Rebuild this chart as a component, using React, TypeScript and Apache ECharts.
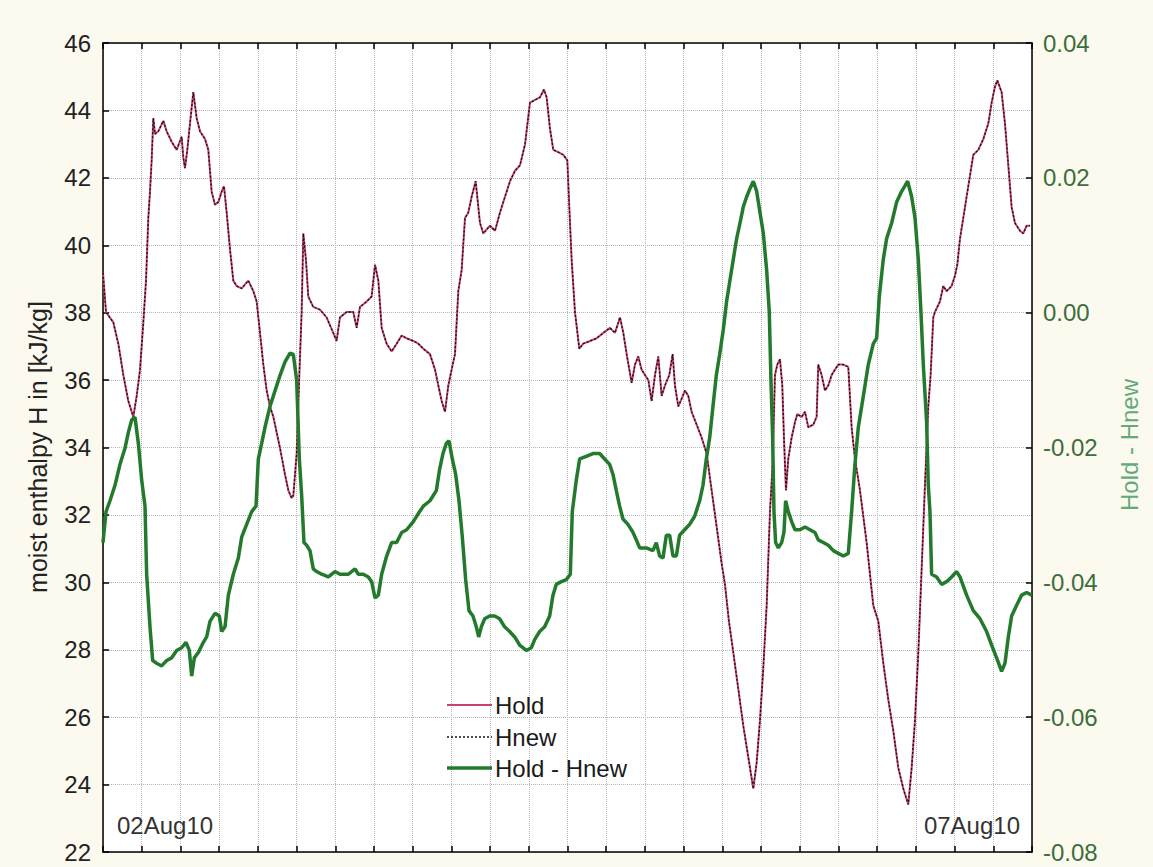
import React, { useEffect, useRef } from "react";
import * as echarts from "echarts";

// x in time-step units (one tick per step), left axis in kJ/kg
const hold: number[][] = [
  [0, 39.18], [0.078, 38.02], [0.267, 37.71], [0.396, 37.08], [0.525, 36.15], [0.654, 35.38], [0.784, 34.91],
  [0.87, 35.53], [0.956, 36.31], [1.042, 37.71], [1.111, 38.95], [1.171, 40.81], [1.214, 41.59], [1.257, 42.52],
  [1.3, 43.77], [1.343, 43.3], [1.429, 43.38], [1.558, 43.69], [1.645, 43.38], [1.774, 43.07], [1.903, 42.83],
  [2.032, 43.22], [2.075, 42.6], [2.118, 42.29], [2.178, 42.83], [2.247, 43.61], [2.333, 44.54], [2.42, 43.77],
  [2.506, 43.38], [2.635, 43.15], [2.721, 42.83], [2.807, 41.59], [2.893, 41.2], [2.979, 41.28], [3.066, 41.59],
  [3.126, 41.75], [3.195, 40.97], [3.281, 39.88], [3.367, 38.95], [3.453, 38.79], [3.582, 38.72], [3.754, 38.95],
  [3.884, 38.64], [3.97, 38.33], [4.056, 37.4], [4.142, 36.46], [4.228, 35.69], [4.314, 35.22], [4.401, 34.91],
  [4.573, 33.98], [4.702, 33.2], [4.788, 32.73], [4.874, 32.5], [4.917, 32.58], [5.003, 33.82], [5.072, 36.15],
  [5.132, 38.02], [5.175, 40.35], [5.243, 39.57], [5.303, 38.48], [5.432, 38.17], [5.604, 38.09], [5.776, 37.86],
  [5.949, 37.4], [6.035, 37.16], [6.122, 37.86], [6.294, 38.02], [6.466, 38.02], [6.553, 37.55], [6.639, 38.17],
  [6.811, 38.33], [6.94, 38.48], [7.027, 39.42], [7.113, 38.95], [7.199, 37.55], [7.328, 37.08], [7.457, 36.85],
  [7.586, 37.08], [7.716, 37.32], [7.845, 37.24], [8.017, 37.16], [8.146, 37.08], [8.275, 36.93], [8.447, 36.77],
  [8.577, 36.31], [8.663, 35.84], [8.749, 35.38], [8.835, 35.06], [8.921, 35.84], [9.007, 36.31], [9.093, 36.77],
  [9.179, 38.64], [9.265, 39.26], [9.352, 40.81], [9.438, 40.97], [9.524, 41.44], [9.627, 41.9], [9.739, 40.66],
  [9.825, 40.35], [9.997, 40.58], [10.127, 40.43], [10.256, 40.97], [10.385, 41.44], [10.514, 41.9], [10.643, 42.21],
  [10.772, 42.37], [10.902, 42.99], [11.031, 44.23], [11.16, 44.31], [11.289, 44.39], [11.392, 44.62], [11.461, 44.39],
  [11.547, 43.46], [11.633, 42.83], [11.763, 42.76], [11.892, 42.68], [11.995, 42.52], [12.047, 41.13], [12.107, 39.57],
  [12.193, 38.02], [12.305, 36.93], [12.408, 37.08], [12.581, 37.16], [12.753, 37.24], [12.925, 37.4], [13.097, 37.55],
  [13.226, 37.4], [13.356, 37.86], [13.442, 37.4], [13.528, 36.77], [13.657, 35.92], [13.743, 36.46], [13.829, 36.7],
  [13.915, 36.31], [14.001, 36.15], [14.088, 36.0], [14.174, 35.38], [14.26, 36.15], [14.346, 36.7], [14.432, 35.53],
  [14.518, 35.84], [14.63, 36.15], [14.716, 36.77], [14.776, 35.84], [14.862, 35.22], [14.949, 35.45], [15.035, 35.69],
  [15.121, 35.53], [15.207, 35.06], [15.336, 34.68], [15.466, 34.29], [15.595, 33.82], [15.724, 32.73], [15.853, 31.65],
  [15.982, 30.56], [16.068, 29.94], [16.17, 28.85], [16.283, 27.92], [16.413, 26.83], [16.542, 25.74], [16.671, 24.81],
  [16.8, 23.88], [16.886, 24.65], [16.972, 25.9], [17.058, 27.45], [17.145, 29.31], [17.231, 32.11], [17.3, 33.51],
  [17.36, 36.15], [17.42, 36.46], [17.489, 36.62], [17.549, 35.84], [17.592, 34.29], [17.644, 32.73], [17.704, 33.67],
  [17.79, 34.29], [17.876, 34.75], [17.937, 34.99], [18.049, 34.91], [18.135, 35.06], [18.221, 34.6], [18.35, 34.68],
  [18.436, 34.91], [18.479, 36.46], [18.565, 36.15], [18.651, 35.69], [18.737, 35.84], [18.824, 36.15], [18.91, 36.31],
  [18.996, 36.46], [19.125, 36.46], [19.254, 36.39], [19.34, 34.6], [19.426, 33.67], [19.556, 32.73], [19.728, 31.18],
  [19.9, 29.31], [20.029, 28.85], [20.158, 27.61], [20.287, 26.52], [20.417, 25.59], [20.546, 24.5], [20.675, 23.88],
  [20.804, 23.41], [20.891, 24.5], [20.977, 25.9], [21.063, 27.92], [21.149, 30.4], [21.235, 32.89], [21.321, 35.22],
  [21.381, 36.15], [21.45, 37.86], [21.493, 38.02], [21.622, 38.33], [21.708, 38.79], [21.795, 38.64], [21.924, 38.79],
  [22.01, 39.1], [22.07, 39.42], [22.139, 40.19], [22.225, 40.81], [22.311, 41.44], [22.397, 42.06], [22.483, 42.68],
  [22.613, 42.83], [22.742, 43.15], [22.871, 43.61], [22.957, 44.23], [23.043, 44.7], [23.104, 44.89], [23.215, 44.54],
  [23.302, 43.61], [23.388, 42.37], [23.474, 41.13], [23.56, 40.66], [23.689, 40.43], [23.775, 40.35], [23.861, 40.58],
  [23.95, 40.58],
];

// Hnew is indistinguishable from Hold at this scale (difference < 0.06 kJ/kg)
const hnew: number[][] = hold;

// right axis: Hold - Hnew
const diff: number[][] = [
  [0, -0.0341], [0.078, -0.0295], [0.181, -0.0279], [0.31, -0.0256], [0.439, -0.0225], [0.568, -0.0201], [0.654, -0.0178],
  [0.741, -0.0159], [0.827, -0.0155], [0.913, -0.0194], [0.999, -0.0248], [1.085, -0.0287], [1.128, -0.0388], [1.214, -0.0466],
  [1.283, -0.0516], [1.386, -0.052], [1.516, -0.0524], [1.645, -0.0516], [1.774, -0.0512], [1.903, -0.0501], [2.032, -0.0497],
  [2.144, -0.0489], [2.23, -0.0501], [2.291, -0.0539], [2.36, -0.0512], [2.463, -0.0504], [2.592, -0.0489], [2.678, -0.0481],
  [2.764, -0.0458], [2.893, -0.0446], [3.005, -0.045], [3.066, -0.0473], [3.152, -0.0466], [3.238, -0.0419], [3.367, -0.0388],
  [3.496, -0.0364], [3.582, -0.0333], [3.711, -0.0314], [3.841, -0.0295], [3.953, -0.0287], [4.013, -0.0217], [4.099, -0.0194],
  [4.185, -0.017], [4.314, -0.0139], [4.443, -0.0116], [4.573, -0.0093], [4.702, -0.0073], [4.831, -0.006], [4.917, -0.0062],
  [5.003, -0.01], [5.072, -0.0217], [5.132, -0.0271], [5.192, -0.0341], [5.261, -0.0345], [5.347, -0.0353], [5.432, -0.038],
  [5.519, -0.0384], [5.649, -0.0388], [5.821, -0.0392], [5.993, -0.0384], [6.122, -0.0388], [6.338, -0.0388], [6.51, -0.038],
  [6.596, -0.0388], [6.725, -0.0388], [6.854, -0.0392], [6.941, -0.0399], [7.027, -0.0423], [7.113, -0.0419], [7.199, -0.0388],
  [7.328, -0.0361], [7.457, -0.0341], [7.586, -0.0341], [7.716, -0.0326], [7.845, -0.0322], [8.017, -0.031], [8.146, -0.0298],
  [8.275, -0.0287], [8.447, -0.0279], [8.611, -0.0264], [8.697, -0.0232], [8.783, -0.0209], [8.869, -0.0194], [8.938, -0.019],
  [9.024, -0.0217], [9.111, -0.024], [9.197, -0.0279], [9.283, -0.0333], [9.369, -0.0396], [9.455, -0.0442], [9.558, -0.045],
  [9.644, -0.0466], [9.705, -0.0481], [9.773, -0.0466], [9.86, -0.0454], [9.989, -0.045], [10.118, -0.045], [10.247, -0.0454],
  [10.376, -0.0466], [10.506, -0.0473], [10.635, -0.0481], [10.764, -0.0493], [10.936, -0.0501], [11.065, -0.0497], [11.151, -0.0485],
  [11.281, -0.0473], [11.41, -0.0466], [11.539, -0.045], [11.625, -0.0419], [11.711, -0.0403], [11.84, -0.0399], [11.969, -0.0396],
  [12.073, -0.0388], [12.124, -0.0295], [12.228, -0.0248], [12.314, -0.0217], [12.486, -0.0213], [12.658, -0.0209], [12.83, -0.0209],
  [12.96, -0.0217], [13.089, -0.0225], [13.175, -0.024], [13.261, -0.0264], [13.347, -0.0287], [13.433, -0.0306], [13.562, -0.0314],
  [13.692, -0.0326], [13.778, -0.0337], [13.864, -0.0349], [14.036, -0.0349], [14.208, -0.0353], [14.294, -0.0341], [14.38, -0.0361],
  [14.467, -0.0364], [14.553, -0.033], [14.639, -0.033], [14.725, -0.0361], [14.811, -0.0361], [14.897, -0.033], [15.026, -0.0322],
  [15.155, -0.0314], [15.285, -0.0302], [15.414, -0.0279], [15.5, -0.0256], [15.586, -0.0217], [15.672, -0.0186], [15.758, -0.0139],
  [15.844, -0.0093], [15.931, -0.0062], [16.025, -0.0025], [16.111, 0.0017], [16.197, 0.0048], [16.283, 0.0079], [16.37, 0.011],
  [16.456, 0.0133], [16.542, 0.0157], [16.628, 0.0172], [16.714, 0.0184], [16.8, 0.0195], [16.886, 0.018], [16.972, 0.0149],
  [17.058, 0.0118], [17.145, 0.0063], [17.213, 0.0001], [17.256, -0.01], [17.3, -0.0186], [17.334, -0.0295], [17.377, -0.0341],
  [17.446, -0.0349], [17.532, -0.0341], [17.592, -0.0326], [17.635, -0.0279], [17.704, -0.0295], [17.79, -0.031], [17.876, -0.0322],
  [18.006, -0.0322], [18.135, -0.0318], [18.264, -0.0322], [18.393, -0.0326], [18.479, -0.0337], [18.608, -0.0341], [18.737, -0.0345],
  [18.867, -0.0353], [18.996, -0.0357], [19.125, -0.0361], [19.254, -0.0357], [19.34, -0.0295], [19.426, -0.0225], [19.513, -0.017],
  [19.642, -0.0124], [19.771, -0.0077], [19.9, -0.0046], [19.986, -0.0038], [20.055, 0.0024], [20.158, 0.0079], [20.245, 0.011],
  [20.374, 0.0133], [20.503, 0.0164], [20.632, 0.018], [20.718, 0.0188], [20.787, 0.0195], [20.891, 0.0172], [20.977, 0.0141],
  [21.063, 0.0079], [21.131, 0.0001], [21.192, -0.0077], [21.278, -0.0163], [21.321, -0.0256], [21.364, -0.0295], [21.407, -0.0388],
  [21.536, -0.0392], [21.665, -0.0403], [21.795, -0.0399], [21.924, -0.0392], [22.053, -0.0384], [22.139, -0.0392], [22.311, -0.0419],
  [22.483, -0.0442], [22.656, -0.0454], [22.828, -0.0473], [22.957, -0.0493], [23.086, -0.0512], [23.215, -0.0532], [23.302, -0.052],
  [23.388, -0.0481], [23.474, -0.045], [23.603, -0.0434], [23.732, -0.0419], [23.861, -0.0415], [23.99, -0.0419],
];

const leftTicks = { min: 22, max: 46, step: 2 };
const rightTicks = { min: -0.08, max: 0.04, step: 0.02 };
const xRange = { min: 0, max: 24, step: 1 };
const dateLabels = ["02Aug10", "07Aug10"];
const seriesNames = ["Hold", "Hnew", "Hold - Hnew"];
const leftName = "moist enthalpy H in [kJ/kg]";
const rightName = "Hold - Hnew";

const FONT = "Arial, 'Liberation Sans', sans-serif";

const COLORS = { hold: "#c8426e", hnew: "#111111", diff: "#237a2c" };

export default function App() {
  const ref = useRef<HTMLDivElement>(null);
  useEffect(() => {
    if (!ref.current) return;
    const chart = echarts.init(ref.current, undefined, { renderer: "svg" });
    const gridLine = { show: true, lineStyle: { color: "#b5b5b5", type: "dotted" as const, width: 1 } };
    const blackLine = { show: true, lineStyle: { color: "#000", width: 1.5 } };
    const tick = { show: true, inside: true, length: 6, lineStyle: { color: "#000", width: 1.5 } };

    // legend drawn as graphic rows (line sample + label)
    const legendX = 447;
    const legendRowsY = [705, 737, 768];
    const legendStyles = [
      { stroke: COLORS.hold, lineWidth: 2, lineDash: undefined as number[] | undefined },
      { stroke: COLORS.hnew, lineWidth: 1.3, lineDash: [2, 2] },
      { stroke: COLORS.diff, lineWidth: 3.5, lineDash: undefined as number[] | undefined },
    ];
    const legendGraphics: any[] = [];
    seriesNames.forEach((name, i) => {
      const y = legendRowsY[i];
      const s = legendStyles[i];
      legendGraphics.push({
        type: "line", z: 10,
        shape: { x1: legendX, y1: y, x2: legendX + 45, y2: y },
        style: { stroke: s.stroke, lineWidth: s.lineWidth, lineDash: s.lineDash },
      });
      legendGraphics.push({
        type: "text", z: 10, x: legendX + 48, y,
        style: { text: name, fontSize: 24, fill: "#1a1a1a", fontFamily: FONT, verticalAlign: "middle" },
      });
    });

    chart.setOption({
      animation: false,
      backgroundColor: "#fcf9ef",
      textStyle: { fontFamily: FONT },
      grid: {
        left: 103, top: 43, width: 929, height: 809,
        show: true, backgroundColor: "#ffffff", borderWidth: 0,
      },
      xAxis: [
        {
          type: "value", position: "bottom",
          min: xRange.min, max: xRange.max, interval: xRange.step,
          axisLine: { ...blackLine, onZero: false },
          axisTick: tick,
          axisLabel: { show: false },
          splitLine: gridLine,
        },
        {
          type: "value", position: "top",
          min: xRange.min, max: xRange.max, interval: xRange.step,
          axisLine: { ...blackLine, onZero: false },
          axisTick: tick,
          axisLabel: { show: false },
          splitLine: { show: false },
        },
      ],
      yAxis: [
        {
          type: "value", position: "left",
          min: leftTicks.min, max: leftTicks.max, interval: leftTicks.step,
          axisLine: { ...blackLine, onZero: false },
          axisTick: tick,
          axisLabel: { fontSize: 24, color: "#222", margin: 12, fontFamily: FONT },
          splitLine: gridLine,
        },
        {
          type: "value", position: "right",
          min: rightTicks.min, max: rightTicks.max, interval: rightTicks.step,
          axisLine: { ...blackLine, onZero: false },
          axisTick: tick,
          axisLabel: {
            fontSize: 24, color: "#3b6e3b", margin: 11, fontFamily: FONT,
            formatter: (v: number) => v.toFixed(2),
          },
          splitLine: { show: false },
        },
      ],
      series: [
        {
          name: seriesNames[0], type: "line", xAxisIndex: 0, yAxisIndex: 0,
          data: hold, symbol: "none", showSymbol: false,
          lineStyle: { color: COLORS.hold, width: 2 },
          itemStyle: { color: COLORS.hold },
          z: 2,
        },
        {
          name: seriesNames[1], type: "line", xAxisIndex: 0, yAxisIndex: 0,
          data: hnew, symbol: "none", showSymbol: false,
          lineStyle: { color: COLORS.hnew, width: 1.3, type: [2, 2] },
          itemStyle: { color: COLORS.hnew },
          z: 3,
        },
        {
          name: seriesNames[2], type: "line", xAxisIndex: 0, yAxisIndex: 1,
          data: diff, symbol: "none", showSymbol: false,
          lineStyle: { color: COLORS.diff, width: 3.5 },
          itemStyle: { color: COLORS.diff },
          z: 4,
        },
      ],
      graphic: [
        {
          type: "text", left: 117, top: 813, z: 10,
          style: { text: dateLabels[0], fontSize: 24, fill: "#333", fontFamily: FONT },
        },
        {
          type: "text", right: 133, top: 813, z: 10,
          style: { text: dateLabels[1], fontSize: 24, fill: "#333", fontFamily: FONT },
        },
        {
          type: "text", x: 38, y: 447, rotation: Math.PI / 2, z: 10,
          style: { text: leftName, fontSize: 25, fill: "#222", fontFamily: FONT, align: "center", verticalAlign: "middle" },
        },
        {
          type: "text", x: 1129, y: 445, rotation: Math.PI / 2, z: 10,
          style: { text: rightName, fontSize: 24, fill: "#63a97c", fontFamily: FONT, align: "center", verticalAlign: "middle" },
        },
        ...legendGraphics,
      ],
    });
    return () => chart.dispose();
  }, []);
  return (
    <div
      ref={ref}
      style={{ position: "absolute", left: 0, top: 0, width: 1153, height: 867 }}
    />
  );
}
